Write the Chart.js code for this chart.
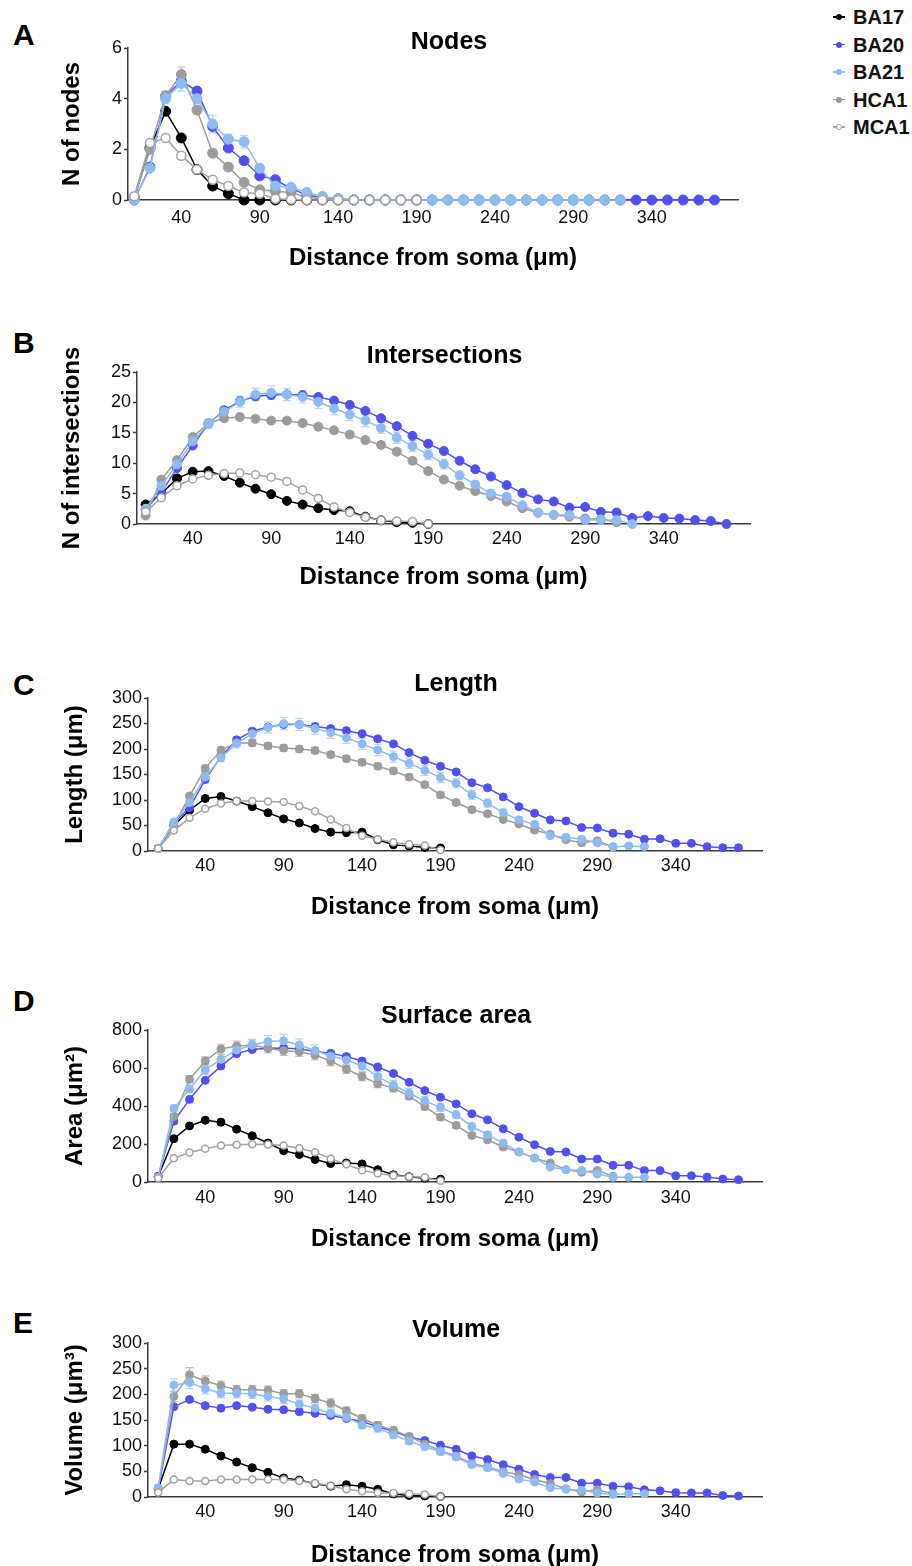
<!DOCTYPE html>
<html>
<head>
<meta charset="utf-8">
<title>Sholl analysis</title>
<script src="https://cdn.jsdelivr.net/npm/chart.js@4.4.1/dist/chart.umd.min.js"></script>
<style>
  body { margin: 0; width: 912px; height: 1566px; overflow: hidden; background: #fff; position: relative;
         font-family: 'Liberation Sans', Arial, sans-serif; }
  canvas { position: absolute; left: 0; }
  .letter { position: absolute; left: 13px; font-weight: bold; font-size: 30px; line-height: 30px; color: #000; }
  .item { position: absolute; left: 833px; height: 20px; display: flex; align-items: center;
          font-weight: bold; font-size: 20px; line-height: 20px; color: #111; white-space: nowrap; }
  .mark { position: relative; width: 12px; height: 20px; margin-right: 8px; }
  .mark .ln { position: absolute; left: 0; width: 12px; top: 9.25px; height: 1.5px; }
  .mark .dt { position: absolute; left: 3px; top: 7px; width: 6px; height: 6px; border-radius: 50%; box-sizing: border-box; }
</style>
</head>
<body>
<div class="letter" style="top:20px">A</div>
<div class="letter" style="top:328px">B</div>
<div class="letter" style="top:670px">C</div>
<div class="letter" style="top:986px">D</div>
<div class="letter" style="top:1308px">E</div>
<div id="legend"></div>
<canvas id="cA"></canvas>
<canvas id="cB"></canvas>
<canvas id="cC"></canvas>
<canvas id="cD"></canvas>
<canvas id="cE"></canvas>
<script>
// distance from soma (um)
const distance = [10, 20, 30, 40, 50, 60, 70, 80, 90, 100, 110, 120, 130, 140, 150, 160, 170, 180, 190,
  200, 210, 220, 230, 240, 250, 260, 270, 280, 290, 300, 310, 320, 330, 340, 350, 360, 370, 380];
const xTicks = [40, 90, 140, 190, 240, 290, 340];
const groups = ['BA17', 'BA20', 'BA21', 'HCA1', 'MCA1'];

// A - nodes
const nodesBA17 = [0.1, 2.05, 3.5, 2.45, 1.2, 0.55, 0.25, 0, 0, 0, 0, 0, 0, 0, 0, 0, 0, 0, 0];
const nodesBA20 = [0, 1.3, 4.1, 4.7, 4.3, 2.9, 2.05, 1.55, 0.95, 0.8, 0.45, 0.2, 0.1, 0.05, 0, 0, 0, 0, 0,
  0, 0, 0, 0, 0, 0, 0, 0, 0, 0, 0, 0, 0, 0, 0, 0, 0, 0, 0];
const nodesBA21 = [0, 1.25, 4.0, 4.6, 4.0, 3.0, 2.4, 2.3, 1.25, 0.55, 0.5, 0.3, 0.15, 0.05, 0, 0, 0, 0, 0,
  0, 0, 0, 0, 0, 0, 0, 0, 0, 0, 0, 0, 0];
const nodesHCA1 = [0.1, 2.0, 4.1, 4.95, 3.55, 1.85, 1.3, 0.7, 0.4, 0.35, 0.3, 0.1, 0.05, 0, 0, 0, 0, 0, 0,
  0, 0, 0, 0, 0, 0, 0, 0, 0, 0, 0];
const nodesMCA1 = [0.15, 2.25, 2.45, 1.75, 1.2, 0.8, 0.55, 0.3, 0.25, 0.05, 0.02, 0, 0, 0, 0, 0, 0, 0, 0];
const nodesErrBA21 = [0, 0.1, 0.2, 0.3, 0.2, 0.35, 0.2, 0.25, 0.15, 0.1, 0.1, 0.05, 0, 0, 0, 0, 0, 0, 0,
  0, 0, 0, 0, 0, 0, 0, 0, 0, 0, 0, 0, 0];
const nodesErrHCA1 = [0, 0.15, 0.2, 0.3, 0.15, 0.15, 0.15, 0.1, 0.05, 0.05, 0, 0, 0, 0, 0, 0, 0, 0, 0,
  0, 0, 0, 0, 0, 0, 0, 0, 0, 0, 0];

// B - intersections
const interBA17 = [3.2, 5.0, 7.5, 8.6, 8.7, 7.9, 6.8, 5.8, 4.9, 3.8, 3.2, 2.6, 2.3, 2.1, 1.2, 0.6, 0.3, 0.2, 0];
const interBA20 = [2.5, 5.2, 9.2, 12.9, 16.5, 18.7, 20.2, 21.0, 21.2, 21.3, 21.2, 20.9, 20.3, 19.6, 18.6, 17.4, 16.1, 14.5, 13.2,
  12.0, 10.4, 9.0, 7.8, 6.4, 5.1, 4.05, 3.7, 2.7, 2.8, 2.0, 1.9, 1.0, 1.3, 1.0, 0.9, 0.65, 0.5, 0];
const interBA21 = [2.5, 6.3, 9.8, 13.6, 16.5, 18.5, 20.1, 21.3, 21.6, 21.3, 20.9, 20.1, 19.0, 18.0, 17.0, 15.8, 14.2, 12.8, 11.4,
  9.85, 8.0, 6.5, 5.0, 4.5, 3.1, 1.85, 1.5, 1.5, 0.65, 0.65, 0.65, 0];
const interHCA1 = [1.4, 7.3, 10.5, 14.3, 16.6, 17.4, 17.6, 17.3, 17.0, 17.0, 16.6, 16.0, 15.4, 14.7, 13.8, 13.0, 11.9, 10.4, 8.7,
  7.3, 6.3, 5.4, 4.6, 3.7, 2.6, 1.85, 1.5, 1.2, 0.9, 0.8, 0.3];
const interMCA1 = [2.0, 4.3, 6.3, 7.4, 8.0, 8.3, 8.4, 8.1, 7.7, 7.0, 5.6, 4.2, 2.8, 1.9, 1.1, 0.6, 0.5, 0.4, 0];
const interErrBA21 = [0.3, 0.5, 0.6, 0.7, 0.7, 0.8, 0.9, 1.0, 1.1, 1.0, 1.0, 1.1, 1.0, 1.0, 1.0, 0.9, 0.9, 0.9, 0.8,
  0.8, 0.7, 0.6, 0.6, 0.5, 0.4, 0.3, 0.3, 0.3, 0.2, 0.2, 0.2, 0];
const interErrHCA1 = [0.2, 0.4, 0.5, 0.5, 0.5, 0.5, 0.5, 0.5, 0.5, 0.5, 0.5, 0.5, 0.5, 0.5, 0.5, 0.5, 0.5, 0.5, 0.5,
  0.4, 0.4, 0.4, 0.3, 0.3, 0.3, 0.2, 0.2, 0.2, 0.1, 0.1, 0.1];

// C - length (um)
const lengthBA17 = [5, 50, 80, 103, 107, 98, 87, 75, 63, 55, 44, 37, 36, 37, 22, 12, 10, 7, 6];
const lengthBA20 = [5, 55, 85, 140, 185, 218, 235, 243, 248, 248, 244, 240, 236, 230, 220, 210, 193, 178, 166,
  155, 134, 124, 106, 87, 74, 61, 59, 46, 45, 35, 33, 23, 24, 15, 15, 8.5, 6.5, 6.5];
const lengthBA21 = [5, 57, 95, 145, 183, 211, 230, 242, 250, 248, 240, 232, 222, 210, 198, 185, 172, 158, 144,
  133, 110, 94, 75, 61, 52, 30, 27, 23, 16, 8.5, 10, 8.5];
const lengthHCA1 = [5, 50, 108, 162, 198, 212, 212, 206, 202, 200, 197, 189, 181, 174, 166, 157, 145, 130, 110,
  95, 81, 73, 62, 53, 41, 33, 22, 16, 20, 8];
const lengthMCA1 = [5, 40, 65, 83, 93, 98, 98, 97, 96, 88, 78, 62, 45, 30, 23, 17, 13, 11, 2];
const lengthErrBA21 = [1, 4, 6, 8, 8, 9, 10, 11, 12, 12, 11, 11, 11, 11, 11, 11, 10, 10, 10,
  9, 9, 8, 7, 6, 6, 4, 4, 3, 3, 2, 2, 2];
const lengthErrHCA1 = [1, 3, 5, 6, 6, 6, 6, 6, 6, 6, 6, 6, 6, 6, 6, 6, 6, 6, 6,
  5, 5, 5, 4, 4, 4, 3, 3, 3, 2, 2];

// D - surface area (um2)
const areaBA17 = [30, 228, 295, 325, 315, 278, 243, 205, 165, 145, 118, 97, 100, 95, 65, 38, 28, 20, 15];
const areaBA20 = [30, 320, 435, 535, 610, 675, 698, 704, 705, 700, 688, 677, 660, 637, 605, 571, 525, 481, 446,
  411, 359, 327, 280, 236, 196, 161, 158, 121, 121, 88, 88, 60, 60, 33, 33, 26, 16, 12];
const areaBA21 = [25, 388, 490, 590, 646, 695, 721, 739, 743, 721, 692, 663, 642, 611, 555, 510, 467, 427, 393,
  354, 292, 249, 205, 158, 126, 79, 65, 61, 42, 25, 25, 25];
const areaHCA1 = [25, 345, 541, 637, 700, 716, 721, 704, 691, 686, 668, 637, 594, 555, 518, 494, 452, 397, 341,
  298, 245, 222, 184, 158, 126, 100, 65, 51, 61, 30];
const areaMCA1 = [20, 125, 155, 175, 192, 196, 199, 197, 192, 178, 157, 123, 93, 62, 45, 34, 28, 25, 6];
const areaErrBA21 = [3, 15, 20, 25, 25, 28, 30, 32, 35, 32, 30, 30, 28, 27, 26, 25, 25, 24, 22,
  20, 18, 16, 14, 12, 10, 8, 7, 6, 5, 4, 4, 4];
const areaErrHCA1 = [3, 15, 18, 22, 25, 25, 25, 25, 25, 25, 25, 24, 23, 22, 21, 20, 19, 18, 17,
  15, 14, 12, 11, 10, 9, 8, 6, 5, 5, 4];

// E - volume (um3)
const volBA17 = [16, 103, 103, 93, 80, 68, 57, 48, 37, 33, 26, 21, 24, 21, 15, 6, 3, 2, 1];
const volBA20 = [15, 176, 190, 178, 173, 178, 175, 171, 170, 166, 163, 159, 153, 147, 137, 128, 117, 110, 101,
  93, 80, 73, 63, 54, 44, 38, 38, 27, 27, 21, 20, 14, 12, 8.5, 8, 8, 3, 2];
const volBA21 = [18, 218, 223, 211, 202, 202, 201, 196, 191, 181, 173, 163, 155, 140, 134, 121, 109, 98, 88,
  78, 63, 57, 46, 35, 29, 18, 15, 13, 8, 5, 6.5, 6.5];
const volHCA1 = [15, 196, 238, 226, 217, 209, 209, 208, 201, 201, 192, 183, 168, 153, 140, 130, 118, 103, 90,
  80, 65, 59, 49, 44, 34, 26, 16, 10, 14, 6.5];
const volMCA1 = [9, 34, 31, 31, 34, 34, 34, 34, 34, 31, 27, 22, 15, 11, 8.5, 8, 6.5, 5, 1];
const volErrBA21 = [2, 12, 12, 10, 9, 9, 9, 9, 9, 8, 8, 8, 7, 7, 7, 7, 6, 6, 6,
  5, 5, 5, 4, 4, 3, 3, 2, 2, 2, 1, 1, 1];
const volErrHCA1 = [2, 10, 14, 10, 9, 8, 8, 8, 8, 8, 8, 8, 7, 7, 7, 6, 6, 6, 5,
  5, 5, 4, 4, 4, 3, 3, 2, 2, 2, 1];

const lineColor = { BA17: '#000000', BA20: '#5050f0', BA21: '#8dbcf2', HCA1: '#9c9c9c', MCA1: '#a3a3a3' };
const fillColor = { BA17: '#000000', BA20: '#5050f0', BA21: '#8dbcf2', HCA1: '#9c9c9c', MCA1: '#ffffff' };
const errColor = { BA21: '#b4d3f6', HCA1: '#bdbdbd' };
const drawOrder = { BA17: 4, BA20: 3, BA21: 1, HCA1: 2, MCA1: 0 };
const axisColor = '#3a3a3a';

Chart.defaults.font.family = "'Liberation Sans', Arial, sans-serif";

const panels = [
  { id: 'cA', title: 'Nodes', yTitle: 'N of nodes', yMax: 6, yTicks: [0, 2, 4, 6], xMin: 6, radius: 5,
    series: [nodesBA17, nodesBA20, nodesBA21, nodesHCA1, nodesMCA1],
    errors: { BA21: nodesErrBA21, HCA1: nodesErrHCA1 },
    box: { titleY: 42, plotTop: 48, plotBottom: 200, plotLeft: 128, plotRight: 738, xTitleY: 258, yTitleX: 72, tickY: 218, padR: 14 } },
  { id: 'cB', title: 'Intersections', yTitle: 'N of intersections', yMax: 25, yTicks: [0, 5, 10, 15, 20, 25], xMin: 4.5, radius: 4.5,
    series: [interBA17, interBA20, interBA21, interHCA1, interMCA1],
    errors: { BA21: interErrBA21, HCA1: interErrHCA1 },
    box: { titleY: 356, plotTop: 372, plotBottom: 524, plotLeft: 137, plotRight: 750, xTitleY: 577, yTitleX: 72, tickY: 539, padR: 23 } },
  { id: 'cC', title: 'Length', yTitle: 'Length (μm)', yMax: 300, yTicks: [0, 50, 100, 150, 200, 250, 300], xMin: 3.5, radius: 4,
    series: [lengthBA17, lengthBA20, lengthBA21, lengthHCA1, lengthMCA1],
    errors: { BA21: lengthErrBA21, HCA1: lengthErrHCA1 },
    box: { titleY: 684, plotTop: 698, plotBottom: 851, plotLeft: 148, plotRight: 762, xTitleY: 907, yTitleX: 75, tickY: 866, padR: 0 } },
  { id: 'cD', title: 'Surface area', yTitle: 'Area (μm²)', yMax: 800, yTicks: [0, 200, 400, 600, 800], xMin: 3.5, radius: 4,
    series: [areaBA17, areaBA20, areaBA21, areaHCA1, areaMCA1],
    errors: { BA21: areaErrBA21, HCA1: areaErrHCA1 },
    box: { titleY: 1016, plotTop: 1030, plotBottom: 1182, plotLeft: 148, plotRight: 762, xTitleY: 1239, yTitleX: 75, tickY: 1198, padR: 0 } },
  { id: 'cE', title: 'Volume', yTitle: 'Volume (μm³)', yMax: 300, yTicks: [0, 50, 100, 150, 200, 250, 300], xMin: 3.5, radius: 4,
    series: [volBA17, volBA20, volBA21, volHCA1, volMCA1],
    errors: { BA21: volErrBA21, HCA1: volErrHCA1 },
    box: { titleY: 1330, plotTop: 1343, plotBottom: 1497, plotLeft: 148, plotRight: 762, xTitleY: 1555, yTitleX: 75, tickY: 1512, padR: 0 } }
];

// mean +/- error whiskers, drawn under the points
const errorBars = {
  id: 'errorBars',
  beforeDatasetsDraw(chart) {
    const ctx = chart.ctx;
    const xs = chart.scales.x, ys = chart.scales.y;
    chart.data.datasets.forEach(ds => {
      if (!ds.errors) return;
      ctx.save();
      ctx.strokeStyle = ds.errorColor;
      ctx.lineWidth = 1.2;
      ds.errors.forEach((e, i) => {
        if (!e) return;
        const x = xs.getPixelForValue(ds.data[i].x);
        const yHi = ys.getPixelForValue(ds.data[i].y + e);
        const yLo = ys.getPixelForValue(Math.max(0, ds.data[i].y - e));
        ctx.beginPath();
        ctx.moveTo(x, yLo); ctx.lineTo(x, yHi);
        ctx.moveTo(x - 4, yHi); ctx.lineTo(x + 4, yHi);
        ctx.moveTo(x - 4, yLo); ctx.lineTo(x + 4, yLo);
        ctx.stroke();
      });
      ctx.restore();
    });
  }
};

function makePanel(p) {
  const b = p.box;
  const top = Math.round(b.titleY - 10);
  const bottom = Math.ceil(b.xTitleY + 14.4);
  const canvas = document.getElementById(p.id);
  canvas.width = 912;
  canvas.height = bottom - top;
  canvas.style.top = top + 'px';

  const titlePadTop = b.titleY - top - 6.25;
  const titlePadBottom = b.plotTop - top - titlePadTop - 12.5;

  const datasets = groups.map((g, k) => ({
    label: g,
    data: p.series[k].map((v, i) => ({ x: distance[i], y: v })),
    errors: p.errors[g],
    errorColor: errColor[g],
    borderColor: lineColor[g],
    backgroundColor: fillColor[g],
    pointBackgroundColor: fillColor[g],
    pointBorderColor: lineColor[g],
    pointBorderWidth: g === 'MCA1' ? 1.5 : 1,
    pointRadius: g === 'MCA1' ? p.radius - 0.5 : p.radius,
    borderWidth: 1.5,
    tension: 0,
    clip: false,
    order: drawOrder[g]
  }));

  new Chart(canvas.getContext('2d'), {
    type: 'line',
    data: { datasets: datasets },
    plugins: [errorBars],
    options: {
      responsive: false,
      animation: false,
      devicePixelRatio: 1,
      layout: { padding: { left: 0, top: 0, right: b.padR, bottom: 0 } },
      plugins: {
        legend: { display: false },
        tooltip: { enabled: false },
        title: {
          display: true, text: p.title, color: '#000',
          font: { size: 25, weight: 'bold', lineHeight: 0.5 },
          padding: { top: titlePadTop, bottom: titlePadBottom }
        }
      },
      scales: {
        x: {
          type: 'linear', min: p.xMin, max: 395,
          afterBuildTicks: s => { s.ticks = xTicks.map(v => ({ value: v })); },
          afterFit: s => { s.height = bottom - b.plotBottom; },
          grid: { display: false, drawTicks: false },
          border: { display: true, color: axisColor, width: 1.5 },
          ticks: { color: '#111', font: { size: 18 }, padding: b.tickY - b.plotBottom - 10.8, maxRotation: 0, autoSkip: false },
          title: { display: true, text: 'Distance from soma (μm)', color: '#000',
                   font: { size: 24, weight: 'bold' }, padding: { top: 0, bottom: bottom - b.xTitleY - 14.4 } }
        },
        y: {
          type: 'linear', min: 0, max: p.yMax,
          afterBuildTicks: s => { s.ticks = p.yTicks.map(v => ({ value: v })); },
          afterFit: s => { s.width = b.plotLeft; },
          grid: { drawOnChartArea: false, drawTicks: true, tickLength: 4, tickWidth: 1.5, color: axisColor },
          border: { display: true, color: axisColor, width: 1.5 },
          ticks: { color: '#111', font: { size: 18 }, padding: 2 },
          title: { display: true, text: p.yTitle, color: '#000',
                   font: { size: 24, weight: 'bold' }, padding: { top: b.yTitleX - 14.4, bottom: 0 } }
        },
        yRight: {
          type: 'linear', axis: 'y', position: 'right', display: true,
          afterFit: s => { s.width = 912 - b.padR - b.plotRight; },
          ticks: { display: false },
          grid: { display: false },
          border: { display: false }
        }
      }
    }
  });
}

panels.forEach(makePanel);

// legend, top right
const legendRows = [17, 44.5, 72, 99.5, 127];
const legend = document.getElementById('legend');
groups.forEach((g, k) => {
  const item = document.createElement('div');
  item.className = 'item';
  item.style.top = (legendRows[k] - 10) + 'px';
  const dotStyle = g === 'MCA1'
    ? 'background:#fff;border:1.5px solid ' + lineColor[g]
    : 'background:' + fillColor[g];
  item.innerHTML = '<span class="mark"><span class="ln" style="background:' + lineColor[g] + '"></span>' +
    '<span class="dt" style="' + dotStyle + '"></span></span>' + g;
  legend.appendChild(item);
});
</script>
</body>
</html>
